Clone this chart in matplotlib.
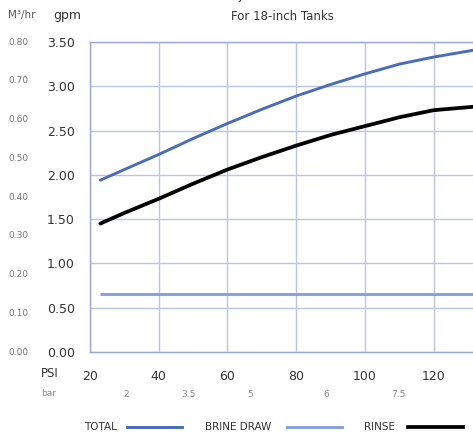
import matplotlib
matplotlib.use("Agg")
import matplotlib.pyplot as plt
from matplotlib.lines import Line2D
from matplotlib import transforms

# ---- data ----
psi = [23, 30, 40, 50, 60, 70, 80, 90, 100, 110, 120, 132]
total = [1.94, 2.06, 2.23, 2.41, 2.58, 2.74, 2.89, 3.02, 3.14, 3.25, 3.33, 3.41]
rinse = [1.45, 1.57, 1.73, 1.90, 2.06, 2.20, 2.33, 2.45, 2.55, 2.65, 2.73, 2.77]
brine = [0.66] * len(psi)

gpm_ticks = [0.0, 0.5, 1.0, 1.5, 2.0, 2.5, 3.0, 3.5]
m3_labels = ["0.00", "0.10", "0.20", "0.30", "0.40", "0.50", "0.60", "0.70", "0.80"]
psi_ticks = [20, 40, 60, 80, 100, 120]
bar_labels = ["2", "3.5", "5", "6", "7.5"]
bar_pos = [31, 49, 67, 89, 110]

C_TOTAL = "#4a6cc0"
C_BRINE = "#86a0e0"
C_RINSE = "#000000"
C_GRID = "#bcc6e4"
C_TXT = "#333333"

plt.rcParams['font.family'] = ['DejaVu Sans']

W, H = 473, 436
fig = plt.figure(figsize=(W / 100, H / 100), dpi=100)

def fx(px):
    return px / W

def fy(py):
    return 1 - py / H

ax_left, ax_right, ax_top, ax_bot = 90, 505, 42, 352
ax = fig.add_axes([fx(ax_left), fy(ax_bot), fx(ax_right - ax_left), (ax_bot - ax_top) / H])
x0 = 20.5
xpx = 3.45
ax.set_xlim(x0, x0 + (ax_right - ax_left) / xpx)
ax.set_ylim(0, 3.5)

ax.plot(psi, total, color=C_TOTAL, lw=2.1, solid_capstyle='round', zorder=3)
ax.plot(psi, brine, color=C_BRINE, lw=2.1, solid_capstyle='butt', zorder=3)
ax.plot(psi, rinse, color=C_RINSE, lw=2.7, solid_capstyle='round', zorder=4)

ax.set_yticks(gpm_ticks)
ax.set_yticklabels([f"{v:.2f}" for v in gpm_ticks], fontsize=9, color=C_TXT)
ax.set_xticks(psi_ticks)
ax.set_xticklabels([str(v) for v in psi_ticks], fontsize=9, color=C_TXT)
ax.tick_params(axis='both', length=0)
ax.tick_params(axis='y', pad=11)
ax.tick_params(axis='x', pad=13)
ax.grid(True, color=C_GRID, lw=1.0)
for s in ['left', 'bottom', 'top']:
    ax.spines[s].set_color("#98a8d4")
    ax.spines[s].set_linewidth(1.0)
ax.spines['right'].set_visible(False)

# m3/hr column
trans = transforms.blended_transform_factory(fig.transFigure, ax.transData)
for i, lab in enumerate(m3_labels):
    v = i / 8 * 3.5
    fig.text(fx(18), v, lab, transform=trans, fontsize=6.5,
             color="#777777", ha='center', va='center')

# header labels
fig.text(fx(22), fy(15), "M³/hr", fontsize=7.5, color="#555555", ha='center', va='center')
fig.text(fx(67), fy(15), "gpm", fontsize=9, color=C_TXT, ha='center', va='center')
fig.text(fx(282), fy(16), "For 18-inch Tanks", fontsize=8.5, color=C_TXT, ha='center', va='center')
fig.text(fx(282), fy(-4), "Injector 1600 Flow", fontsize=8.5, color=C_TXT, ha='center', va='center')

# PSI / bar row
fig.text(fx(50), fy(373), "PSI", fontsize=8.5, color=C_TXT, ha='center', va='center')
fig.text(fx(49), fy(393), "bar", fontsize=6.5, color="#888888", ha='center', va='center')
for p, lab in zip(bar_pos, bar_labels):
    xp = ax_left + (p - x0) * xpx
    fig.text(fx(xp), fy(394), lab, fontsize=6.5, color="#888888", ha='center', va='center')

# legend
ly = fy(427)
fig.text(fx(100), ly, "TOTAL", fontsize=7.5, color=C_TXT, ha='center', va='center')
fig.add_artist(Line2D([fx(127), fx(182)], [ly, ly], color=C_TOTAL, lw=2.1))
fig.text(fx(238), ly, "BRINE DRAW", fontsize=7.5, color=C_TXT, ha='center', va='center')
fig.add_artist(Line2D([fx(287), fx(342)], [ly, ly], color=C_BRINE, lw=2.1))
fig.text(fx(379), ly, "RINSE", fontsize=7.5, color=C_TXT, ha='center', va='center')
fig.add_artist(Line2D([fx(408), fx(463)], [ly, ly], color=C_RINSE, lw=2.7))

fig.savefig("out.png", dpi=100)
